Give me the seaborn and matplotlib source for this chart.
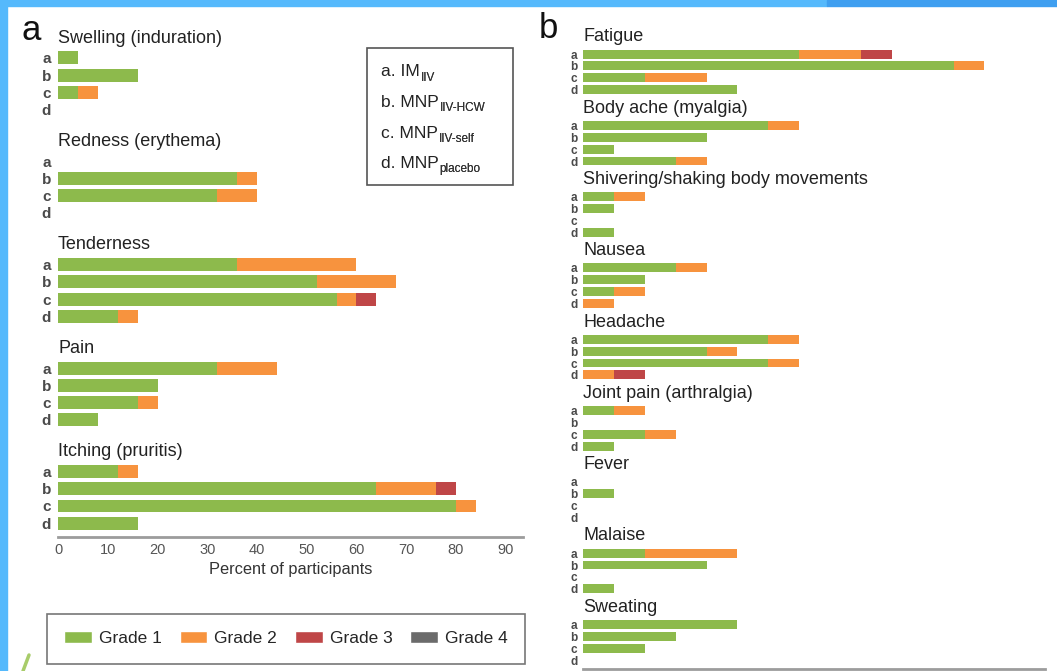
import pandas as pd
import matplotlib.pyplot as plt
import seaborn as sns
from matplotlib.patches import Patch, Rectangle
from matplotlib.lines import Line2D

# ---- data (percent of participants) ----
groups = ["a", "b", "c", "d"]

symptoms_a = ["Swelling (induration)", "Redness (erythema)", "Tenderness",
              "Pain", "Itching (pruritis)"]
grade1_a = [[4, 16, 4, 0], [0, 36, 32, 0], [36, 52, 56, 12], [32, 20, 16, 8], [12, 64, 80, 16]]
grade2_a = [[0, 0, 4, 0], [0, 4, 8, 0], [24, 16, 4, 4], [12, 0, 4, 0], [4, 12, 4, 0]]
grade3_a = [[0, 0, 0, 0], [0, 0, 0, 0], [0, 0, 4, 0], [0, 0, 0, 0], [0, 4, 0, 0]]

symptoms_b = ["Fatigue", "Body ache (myalgia)", "Shivering/shaking body movements",
              "Nausea", "Headache", "Joint pain (arthralgia)", "Fever", "Malaise", "Sweating"]
grade1_b = [[43.75, 75, 12.5, 31.25], [37.5, 25, 6.25, 18.75], [6.25, 6.25, 0, 6.25],
            [18.75, 12.5, 6.25, 0], [37.5, 25, 37.5, 0], [6.25, 0, 12.5, 6.25],
            [0, 6.25, 0, 0], [12.5, 25, 0, 6.25], [31.25, 18.75, 12.5, 0]]
grade2_b = [[12.5, 6.25, 12.5, 0], [6.25, 0, 0, 6.25], [6.25, 0, 0, 0],
            [6.25, 0, 6.25, 6.25], [6.25, 6.25, 6.25, 6.25], [6.25, 0, 6.25, 0],
            [0, 0, 0, 0], [18.75, 0, 0, 0], [0, 0, 0, 0]]
grade3_b = [[6.25, 0, 0, 0], [0, 0, 0, 0], [0, 0, 0, 0],
            [0, 0, 0, 0], [0, 0, 0, 6.25], [0, 0, 0, 0],
            [0, 0, 0, 0], [0, 0, 0, 0], [0, 0, 0, 0]]

grade_labels = ["Grade 1", "Grade 2", "Grade 3", "Grade 4"]
grade_colors = ["#8dba4c", "#f7933e", "#bf4647", "#6b6b6b"]
key_main = ["a. IM", "b. MNP", "c. MNP", "d. MNP"]
key_sub = ["IIV", "IIV-HCW", "IIV-self", "placebo"]


def build_frame(symptoms, g1, g2, g3):
    rows, order = [], []
    for s, r1, r2, r3 in zip(symptoms, g1, g2, g3):
        order.append(s + "|title")
        for grp, v1, v2, v3 in zip(groups, r1, r2, r3):
            key = s + "|" + grp
            order.append(key)
            rows.append({"slot": key, "g1": v1, "g12": v1 + v2, "g123": v1 + v2 + v3})
        order.append(s + "|gap")
    return pd.DataFrame(rows), order


def draw_panel(ax, df, order, symptoms, ylim, title_off, letter_size, letter_pad):
    # stacked bars: draw running totals, longest first
    for col, color in [("g123", grade_colors[2]), ("g12", grade_colors[1]), ("g1", grade_colors[0])]:
        sns.barplot(data=df, x=col, y="slot", order=order, color=color, width=0.75,
                    orient="h", saturation=1, errorbar=None, linewidth=0, ax=ax)
    row_pos = [i for i, k in enumerate(order) if k.split("|")[1] in groups]
    ax.set_yticks(row_pos)
    ax.set_yticklabels([order[i].split("|")[1] for i in row_pos],
                       fontsize=letter_size, fontweight="bold", color="#4a4a4a")
    ax.tick_params(axis="y", length=0, pad=letter_pad)
    for s in symptoms:
        ax.text(0, order.index(s + "|title") + title_off, s, fontsize=13,
                color="#222222", va="center", ha="left")
    ax.set_ylim(*ylim)
    ax.set_xlim(0, 93.5)
    ax.set_ylabel("")
    sns.despine(ax=ax, left=True)
    ax.spines["bottom"].set_color("#9c9c9c")
    ax.spines["bottom"].set_linewidth(2)


sns.set_style("white")
plt.rcParams["font.family"] = ["Liberation Sans", "DejaVu Sans"]

fig = plt.figure(figsize=(10.57, 6.71), dpi=100)

# screenshot frame
fig.patches.append(Rectangle((0, 0.991), 0.782, 0.009, transform=fig.transFigure, color="#55b9fc", zorder=5))
fig.patches.append(Rectangle((0.782, 0.991), 0.218, 0.009, transform=fig.transFigure, color="#3f9ff0", zorder=5))
fig.patches.append(Rectangle((0, 0), 0.0066, 1, transform=fig.transFigure, color="#55b9fc", zorder=5))
fig.add_artist(Line2D([23 / 1057, 29 / 1057], [0, 16 / 671], color="#a8cc6a", lw=2.5))

# panel a
ax_a = fig.add_axes([0.0549, 0.1997, 0.44, 0.7526])
df_a, order_a = build_frame(symptoms_a, grade1_a, grade2_a, grade3_a)
draw_panel(ax_a, df_a, order_a, symptoms_a, (28.8, -0.5), -0.15, 11, 5)
ax_a.set_xticks(range(0, 91, 10))
ax_a.tick_params(axis="x", length=0, labelsize=10.5, labelcolor="#555555", pad=4)
ax_a.set_xlabel("Percent of participants", fontsize=11.8, color="#333333", labelpad=4)

# panel b
ax_b = fig.add_axes([0.5516, 0.003, 0.437, 0.943])
df_b, order_b = build_frame(symptoms_b, grade1_b, grade2_b, grade3_b)
draw_panel(ax_b, df_b, order_b, symptoms_b, (52.75, -0.5), -0.45, 8.5, 4)
ax_b.set_xticks([])
ax_b.set_xlabel("")

fig.text(0.020, 0.955, "a", fontsize=25, color="#111111", va="center")
fig.text(0.510, 0.958, "b", fontsize=25, color="#111111", va="center")

# group key box
fig.patches.append(Rectangle((367 / 1057, 1 - 185 / 671), 146 / 1057, 137 / 671,
                             transform=fig.transFigure, fill=False, edgecolor="#555555", lw=1.2))
for i, (main, sub) in enumerate(zip(key_main, key_sub)):
    t = fig.text(381 / 1057, 1 - (72 + 30.5 * i) / 671, main, fontsize=12.5,
                 color="#222222", va="center")
    fig.add_artist(plt.annotate(sub, xy=(1, 0.12), xycoords=t, xytext=(0.5, 0),
                                textcoords="offset points", fontsize=8.5,
                                color="#333333", va="center", ha="left"))

# grade legend
handles = [Patch(facecolor=c, label=l) for c, l in zip(grade_colors, grade_labels)]
leg = fig.legend(handles=handles, loc="center", ncol=4, mode="expand",
                 bbox_to_anchor=(0.0445, 0.0075, 0.452, 0.081), fontsize=12.5,
                 frameon=True, fancybox=False, edgecolor="#555555", borderpad=1.0,
                 handlelength=1.6, handleheight=0.7, handletextpad=0.4, borderaxespad=0)
leg.get_frame().set_linewidth(1.2)

fig.savefig("out.png", dpi=100)
